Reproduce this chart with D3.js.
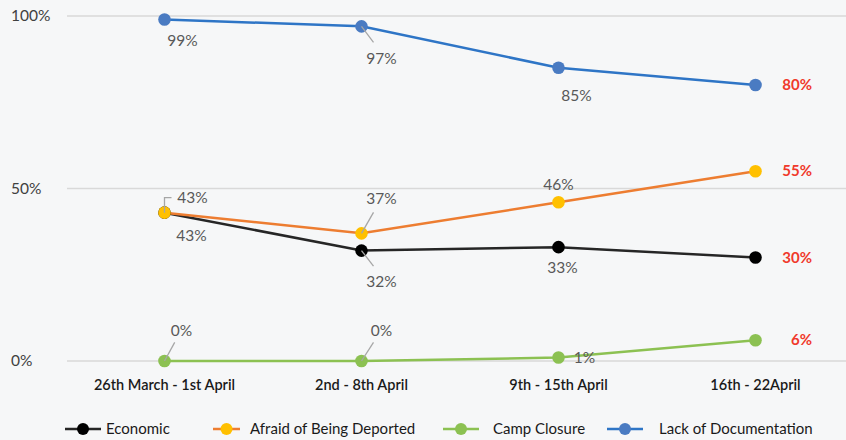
<!DOCTYPE html>
<html>
<head>
<meta charset="utf-8">
<script src="https://cdn.jsdelivr.net/npm/d3@7"></script>
<style>
  body { margin: 0; background: #f6f7f8; }
  svg { display: block; }
  text { font-family: Lato, "Open Sans", sans-serif; }
</style>
</head>
<body>
<svg id="chart" width="846" height="440"></svg>
<script>
"use strict";

const categories = ["26th March - 1st April", "2nd - 8th April", "9th - 15th April", "16th - 22April"];
const seriesNames = ["Economic", "Afraid of Being Deported", "Camp Closure", "Lack of Documentation"];
const economic = [43, 32, 33, 30];
const deported = [43, 37, 46, 55];
const campClosure = [0, 0, 1, 6];
const documentation = [99, 97, 85, 80];
const yTicks = [0, 50, 100];

// label placement (dx, dy from the point, leader line or not) -- layout only
const labelPlacement = {
  "Economic": [[27, 23, null], [20, 31, "diag"], [4, 20, null], null],
  "Afraid of Being Deported": [[28, -15, "bracket"], [20, -35, "diag"], [0, -18, null], null],
  "Camp Closure": [[17, -31, "diag"], [20, -31, "diag"], [26, 0, null], null],
  "Lack of Documentation": [[18, 21, null], [20, 32, "diag"], [18, 28, null], null]
};

const series = [
  {name: seriesNames[0], values: economic, line: "#262626", dot: "#000000"},
  {name: seriesNames[1], values: deported, line: "#ed7d31", dot: "#ffc000"},
  {name: seriesNames[2], values: campClosure, line: "#8cc152", dot: "#8cc152"},
  {name: seriesNames[3], values: documentation, line: "#2e75c6", dot: "#4a7bc2"}
];

const svg = d3.select("#chart");
const W = 846, H = 440;

const x = d3.scaleBand().domain(categories).range([66, 854]);
const cx = c => x(c) + x.bandwidth() / 2;
const y = d3.scaleLinear().domain([0, 100]).range([361, 16]);

svg.append("rect").attr("width", W).attr("height", H).attr("fill", "#f6f7f8");

// gridlines
svg.append("g").selectAll("line").data(yTicks).join("line")
  .attr("x1", 67).attr("x2", 854)
  .attr("y1", d => y(d)).attr("y2", d => y(d))
  .attr("stroke", "#d9d9d9").attr("stroke-width", 1.5);

svg.append("g").selectAll("text").data(yTicks).join("text")
  .attr("x", 11).attr("y", d => y(d) + 5)
  .attr("font-size", 15.5).attr("fill", "#404040")
  .text(d => d + "%");

// category axis labels
svg.append("g").selectAll("text").data(categories).join("text")
  .attr("x", d => cx(d)).attr("y", 390)
  .attr("text-anchor", "middle").attr("font-size", 14.5).attr("font-weight", 600)
  .attr("fill", "#1a1a1a")
  .text(d => d);

const line = d3.line()
  .x((d, i) => cx(categories[i]))
  .y(d => y(d));

const g = svg.append("g");
series.forEach(s => {
  g.append("path").datum(s.values)
    .attr("d", line)
    .attr("fill", "none").attr("stroke", s.line).attr("stroke-width", 2.5);
});

// leader lines + labels
series.forEach(s => {
  const place = labelPlacement[s.name];
  s.values.forEach((v, i) => {
    const px = cx(categories[i]), py = y(v);
    const p = place[i];
    if (!p) {
      svg.append("text")
        .attr("x", 812).attr("y", py + 5)
        .attr("text-anchor", "end").attr("font-size", 15).attr("font-weight", 700)
        .attr("fill", "#f0392b")
        .text(v + "%");
      return;
    }
    const [dx, dy, kind] = p;
    if (kind === "diag") {
      const tx = px + dx * 0.6, ty = py + dy * (dy < 0 ? 0.6 : 0.5);
      svg.append("line")
        .attr("x1", px).attr("y1", py).attr("x2", tx).attr("y2", ty)
        .attr("stroke", "#a6a6a6").attr("stroke-width", 1.3);
    } else if (kind === "bracket") {
      svg.append("path")
        .attr("d", `M${px},${py} V${py + dy} H${px + 7}`)
        .attr("fill", "none").attr("stroke", "#a6a6a6").attr("stroke-width", 1.3);
    }
    svg.append("text")
      .attr("x", px + dx).attr("y", py + dy + 5.5)
      .attr("text-anchor", "middle").attr("font-size", 15.5)
      .attr("fill", "#595959")
      .text(v + "%");
  });
});

// markers on top
series.forEach(s => {
  g.append("g").selectAll("circle").data(s.values).join("circle")
    .attr("cx", (d, i) => cx(categories[i]))
    .attr("cy", d => y(d))
    .attr("r", 6.3)
    .attr("fill", s.dot);
});

// legend
const legendLine = [[65, 101], [213, 240], [443, 479], [607, 643]];
const legendText = [106, 250, 493, 659];
const legend = svg.append("g");
series.forEach((s, i) => {
  const [a, b] = legendLine[i];
  const lg = legend.append("g").attr("transform", "translate(0,429)");
  lg.append("line").attr("x1", a).attr("x2", b).attr("stroke", s.line).attr("stroke-width", 2.5);
  lg.append("circle").attr("cx", (a + b) / 2).attr("r", 6).attr("fill", s.dot);
  lg.append("text").attr("x", legendText[i]).attr("y", 5)
    .attr("font-size", 15).attr("fill", "#1a1a1a").text(s.name);
});
</script>
</body>
</html>
